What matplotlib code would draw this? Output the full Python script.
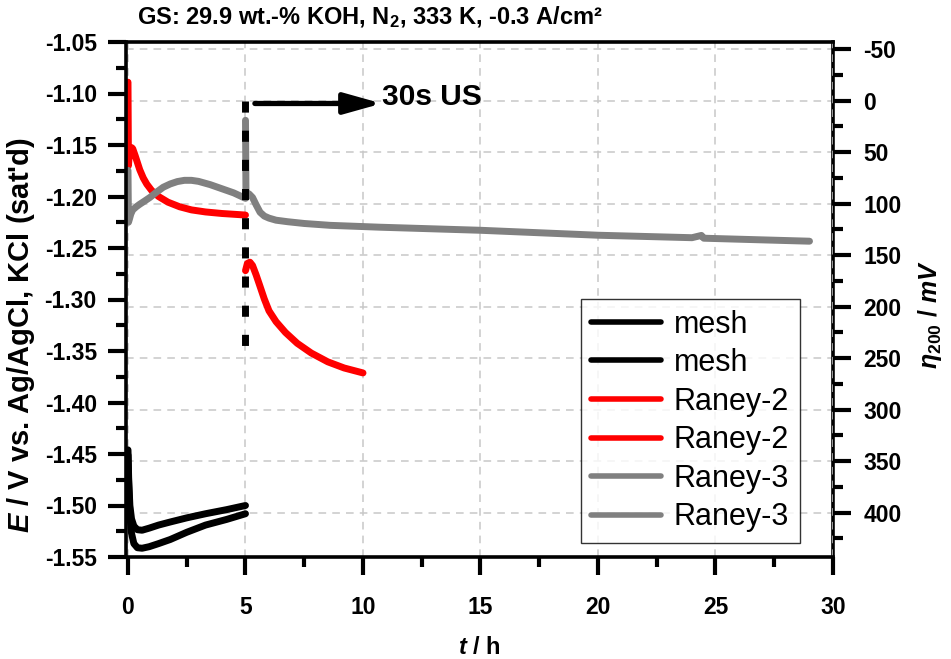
import matplotlib
matplotlib.use("Agg")
import matplotlib.pyplot as plt
from matplotlib.ticker import MultipleLocator

plt.rcParams['font.family'] = ['Liberation Sans', 'DejaVu Sans']
plt.rcParams['mathtext.fontset'] = 'custom'
plt.rcParams['mathtext.rm'] = 'Liberation Sans:bold'
plt.rcParams['mathtext.it'] = 'Liberation Sans:italic:bold'
plt.rcParams['mathtext.bf'] = 'Liberation Sans:bold'
plt.rcParams['axes.unicode_minus'] = False

# ---- data (t in h, E in V vs. Ag/AgCl) ----
mesh1_t = [0, 0.03, 0.08, 0.15, 0.25, 0.4, 0.6, 0.9, 1.3, 1.8, 2.5, 3.3, 4.2, 5.0]
mesh1_E = [-1.446, -1.475, -1.500, -1.513, -1.520, -1.5235, -1.524, -1.522, -1.519,
           -1.516, -1.512, -1.508, -1.504, -1.500]
mesh2_t = [0, 0.03, 0.08, 0.15, 0.25, 0.4, 0.6, 0.9, 1.3, 1.8, 2.5, 3.3, 4.2, 5.0]
mesh2_E = [-1.451, -1.480, -1.510, -1.527, -1.537, -1.541, -1.5415, -1.540, -1.537,
           -1.533, -1.526, -1.519, -1.5135, -1.508]

raney2a_t = [0, 0.02, 0.05, 0.1, 0.15, 0.2, 0.3, 0.4, 0.5, 0.65, 0.8, 1.0, 1.3, 1.7,
             2.2, 2.7, 3.3, 4.0, 5.0]
raney2a_E = [-1.089, -1.170, -1.160, -1.1545, -1.1525, -1.1535, -1.160, -1.167, -1.174,
             -1.182, -1.188, -1.194, -1.200, -1.2055, -1.2100, -1.2130, -1.2150, -1.2165, -1.218]
raney2b_t = [5.0, 5.08, 5.19, 5.3, 5.45, 5.6, 5.8, 6.0, 6.3, 6.7, 7.2, 7.8, 8.5, 9.2, 10.0]
raney2b_E = [-1.272, -1.265, -1.2638, -1.267, -1.276, -1.286, -1.2995, -1.311, -1.3215,
             -1.332, -1.3425, -1.352, -1.3605, -1.3665, -1.3713]

raney3a_t = [0, 0.02, 0.06, 0.12, 0.2, 0.35, 0.5, 0.7, 0.94, 1.2, 1.5, 1.8, 2.1, 2.4,
             2.7, 3.0, 3.5, 4.0, 4.5, 5.0]
raney3a_E = [-1.1746, -1.225, -1.222, -1.217, -1.213, -1.210, -1.2075, -1.2045, -1.2008,
             -1.196, -1.191, -1.1878, -1.1855, -1.1843, -1.1843, -1.1853, -1.1885, -1.1925,
             -1.1965, -1.2018]
raney3b_t = [5.0, 5.02, 5.15, 5.3, 5.45, 5.62, 5.8, 6.0, 6.3, 6.8, 7.5, 8.6, 10.7, 15,
             20, 24, 24.4, 24.5, 29]
raney3b_E = [-1.126, -1.199, -1.1975, -1.201, -1.208, -1.2153, -1.219, -1.221, -1.223,
             -1.2245, -1.2262, -1.228, -1.2298, -1.2328, -1.2376, -1.2400, -1.2378,
             -1.2405, -1.2434]

series = [
    (mesh1_t, mesh1_E, 'black', 'mesh'),
    (mesh2_t, mesh2_E, 'black', 'mesh'),
    (raney2a_t, raney2a_E, '#ff0000', 'Raney-2'),
    (raney2b_t, raney2b_E, '#ff0000', 'Raney-2'),
    (raney3a_t, raney3a_E, '#808080', 'Raney-3'),
    (raney3b_t, raney3b_E, '#808080', 'Raney-3'),
]

# annotation
us_time = 5.0
us_E_top, us_E_bot = -1.1068, -1.354
arrow_E = -1.1097
arrow_t0, arrow_t1 = 5.4, 10.8
us_label = "30s US"

eta_offset = -1.1068  # E at eta = 0 mV

fig = plt.figure(figsize=(9.51, 6.59), dpi=100)
ax = fig.add_axes([126/951, 1-557/659, 707/951, 515/659])
ax2 = ax.twinx()

ax.set_xlim(-0.085, 30)
ax.set_ylim(-1.55, -1.05)
ax2.set_ylim(-1000*(-1.55 - eta_offset), -1000*(-1.05 - eta_offset))

for t, E, c, lab in series:
    ax.plot(t, E, color=c, lw=5.0, solid_capstyle='round', solid_joinstyle='round', label=lab)

ax.plot([us_time, us_time], [us_E_top, us_E_bot], color='black', lw=5,
        linestyle=(0, (1.6, 2.6)), dash_capstyle='butt', zorder=5)
ax.annotate('', xy=(arrow_t1, arrow_E), xytext=(arrow_t0, arrow_E),
            arrowprops=dict(arrowstyle='-|>,head_length=1.5,head_width=0.42', mutation_scale=15,
                            lw=3.8, color='black', shrinkA=0, shrinkB=0), zorder=6)
ax.text(arrow_t1 + 0.0, arrow_E + 0.006, us_label, fontsize=21.5, fontweight='bold',
        ha='left', va='center')

# layering
ax.set_zorder(ax2.get_zorder() + 1)
ax.patch.set_visible(False)

# ticks
ax.xaxis.set_major_locator(MultipleLocator(5))
ax.xaxis.set_minor_locator(MultipleLocator(2.5))
ax.yaxis.set_major_locator(MultipleLocator(0.05))
ax.yaxis.set_minor_locator(MultipleLocator(0.025))
ax.yaxis.set_major_formatter(plt.FuncFormatter(lambda v, p: f"{v:.2f}"))
ax2.yaxis.set_major_locator(MultipleLocator(50))
ax2.yaxis.set_minor_locator(MultipleLocator(25))

ax.tick_params(axis='both', which='major', direction='out', length=13, width=3, labelsize=16.5)
ax.tick_params(axis='both', which='minor', direction='out', length=7, width=3)
ax.tick_params(axis='x', which='major', pad=15)
ax.tick_params(axis='y', which='major', pad=8)
ax.tick_params(top=False, right=False, which='both')
ax2.tick_params(axis='y', which='major', direction='out', length=13, width=3, labelsize=16.5, pad=9)
ax2.tick_params(axis='y', which='minor', direction='out', length=7, width=3)
for lab in ax.get_xticklabels() + ax.get_yticklabels() + ax2.get_yticklabels():
    lab.set_fontweight('bold')

for s in ['left', 'bottom', 'top']:
    ax.spines[s].set_linewidth(2.6)
ax.spines['right'].set_visible(False)
for s in ['left', 'bottom', 'top']:
    ax2.spines[s].set_visible(False)
ax2.spines['right'].set_linewidth(2.6)

# grid
ax.grid(axis='x', which='major', color='#c8c8c8', linestyle=(0, (5, 4)), lw=1.1)
ax2.grid(axis='y', which='major', color='#c8c8c8', linestyle=(0, (5, 4)), lw=1.1)

# labels
ax.set_xlabel(r"$t$ / h", fontsize=17, fontweight='bold', labelpad=12)
ax.set_ylabel(r"$E$ / V vs. Ag/AgCl, KCl (sat'd)", fontsize=21, fontweight='bold')
ax.yaxis.set_label_coords(-0.126, 0.43)
ax2.set_ylabel(r"$\eta_{200}$ / $mV$", fontsize=18, fontweight='bold')
ax2.yaxis.set_label_coords(1.117, 0.47)

fig.text(137/951, 1-17/659, r"GS: 29.9 wt.-% KOH, N$_2$, 333 K, -0.3 A/cm²",
         fontsize=17, fontweight='bold', ha='left', va='center')

leg = ax.legend(loc='lower right', bbox_to_anchor=(0.953, 0.027), borderaxespad=0,
                fontsize=22, frameon=True, fancybox=False, edgecolor='black',
                handlelength=2.3, handletextpad=0.4, labelspacing=0.28, borderpad=0.35)
leg.get_frame().set_linewidth(1.0)
for h in leg.get_lines():
    h.set_linewidth(4)

fig.savefig("out.png", dpi=100)
